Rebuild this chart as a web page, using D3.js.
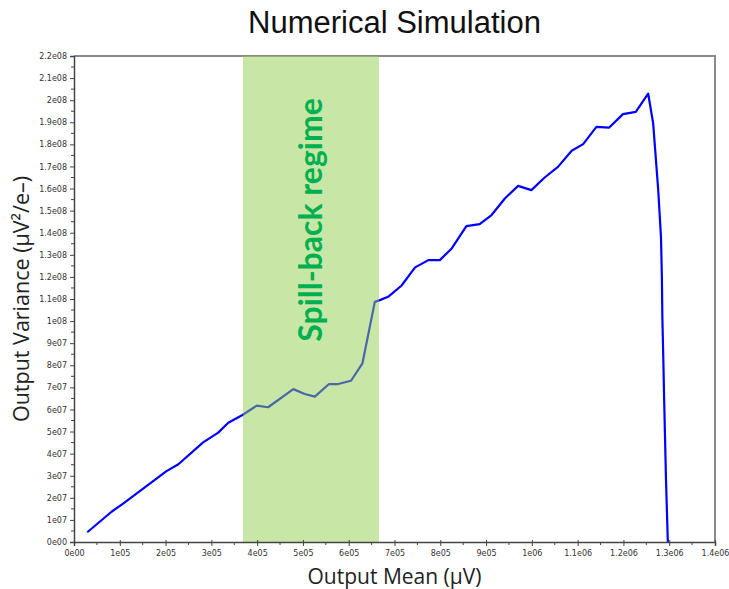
<!DOCTYPE html>
<html>
<head>
<meta charset="utf-8">
<script src="https://cdn.jsdelivr.net/npm/d3@7"></script>
<style>
  html, body { margin: 0; padding: 0; background: #fff; }
  svg { display: block; }
</style>
</head>
<body>
<svg id="chart" width="729" height="589"></svg>
<script>
// Output mean (µV) and output variance (µV²/e−) from the simulation run
const meanValues = [
  29000, 82000, 108000, 202000, 228000, 282000, 315000, 337000, 368000, 399000,
  424000, 479000, 504000, 526000, 557000, 577000, 605000, 630000, 657000, 668000,
  686000, 715000, 745000, 774000, 799000, 825000, 857000, 886000, 912000, 941000,
  970000, 999000, 1028000, 1057000, 1087000, 1112000, 1141000, 1169000, 1199000, 1227000,
  1254000, 1265000, 1276000, 1282000, 1284000, 1285000, 1287000, 1289000, 1291000, 1293000,
  1297000
];
const varianceValues = [
  4.4e6, 1.37e7, 1.75e7, 3.21e7, 3.52e7, 4.51e7, 4.95e7, 5.40e7, 5.75e7, 6.17e7,
  6.10e7, 6.92e7, 6.70e7, 6.58e7, 7.15e7, 7.15e7, 7.30e7, 8.09e7, 1.087e8, 1.095e8,
  1.11e8, 1.16e8, 1.243e8, 1.276e8, 1.276e8, 1.329e8, 1.430e8, 1.439e8, 1.480e8, 1.555e8,
  1.612e8, 1.593e8, 1.650e8, 1.698e8, 1.771e8, 1.801e8, 1.879e8, 1.876e8, 1.937e8, 1.947e8,
  2.030e8, 1.894e8, 1.593e8, 1.381e8, 1.20e8, 1.02e8, 8.4e7, 6.4e7, 4.6e7, 2.8e7,
  0
];

// Spill-back regime extent along the mean axis
const regimeRange = [369000, 666000];
const regimeLabel = "Spill-back regime";

// Axis ticks
const xTickValues = [0, 1e5, 2e5, 3e5, 4e5, 5e5, 6e5, 7e5, 8e5, 9e5, 1e6, 1.1e6, 1.2e6, 1.3e6, 1.4e6];
const xTickLabels = ["0e00", "1e05", "2e05", "3e05", "4e05", "5e05", "6e05", "7e05", "8e05", "9e05", "1e06", "1.1e06", "1.2e06", "1.3e06", "1.4e06"];
const yTickValues = d3.range(0, 23).map(i => i * 1e7);
const yTickLabels = ["0e00", "1e07", "2e07", "3e07", "4e07", "5e07", "6e07", "7e07", "8e07", "9e07",
  "1e08", "1.1e08", "1.2e08", "1.3e08", "1.4e08", "1.5e08", "1.6e08", "1.7e08", "1.8e08", "1.9e08",
  "2e08", "2.1e08", "2.2e08"];

const titleText = "Numerical Simulation";
const xTitle = "Output Mean (\u00b5V)";
const yTitle = "Output Variance (\u00b5V\u00b2/e\u2013)";

const svg = d3.select("#chart");
const plotL = 74, plotR = 715, plotT = 56, plotB = 542;

const x = d3.scaleLinear().domain([0, 1.4e6]).range([plotL, plotR]);
const y = d3.scaleLinear().domain([0, 2.2e8]).range([plotB, plotT]);

// Title
svg.append("text")
  .attr("x", (plotL + plotR) / 2).attr("y", 33)
  .attr("text-anchor", "middle")
  .attr("font-family", "Liberation Sans, Arial, sans-serif")
  .attr("font-size", 31)
  .attr("fill", "#111")
  .text(titleText);

// Frame (top and right edges)
svg.append("path")
  .attr("d", `M${plotL},${plotT}H${plotR}V${plotB}`)
  .attr("fill", "none")
  .attr("stroke", "#8a8a8a")
  .attr("stroke-width", 2);

// Data line
const points = meanValues.map((m, i) => [m, varianceValues[i]]);
svg.append("path")
  .datum(points)
  .attr("d", d3.line().x(d => x(d[0])).y(d => y(d[1])))
  .attr("fill", "none")
  .attr("stroke", "#0000ff")
  .attr("stroke-width", 2.2)
  .attr("stroke-linejoin", "round");

// Translucent highlight band over the regime
svg.append("rect")
  .attr("x", x(regimeRange[0]))
  .attr("y", plotT)
  .attr("width", x(regimeRange[1]) - x(regimeRange[0]))
  .attr("height", plotB - plotT)
  .attr("fill", "#92d050")
  .attr("fill-opacity", 0.5);

// Regime label
const lx = (x(regimeRange[0]) + x(regimeRange[1])) / 2;
const ly = 220;
svg.append("text")
  .attr("transform", `translate(${lx + 11},${ly}) rotate(-90)`)
  .attr("text-anchor", "middle")
  .attr("font-family", "Lato, 'Open Sans', sans-serif")
  .attr("font-weight", "bold")
  .attr("font-size", 32)
  .attr("fill", "#00b050")
  .text(regimeLabel);

// Axes
const tickFont = "DejaVu Sans, sans-serif";
const xAxis = d3.axisBottom(x)
  .tickValues(xTickValues)
  .tickFormat((d, i) => xTickLabels[i])
  .tickSize(4).tickPadding(4);
const gx = svg.append("g").attr("transform", `translate(0,${plotB})`).call(xAxis);
gx.select(".domain").attr("stroke", "#444").attr("stroke-width", 1.5);
gx.selectAll(".tick line").attr("stroke", "#444").attr("y1", -2);
gx.selectAll("text").attr("font-family", tickFont).attr("font-size", 8).attr("fill", "#333");

// x minor ticks
svg.append("g").selectAll("line")
  .data(d3.range(0, 14).map(i => i * 1e5 + 5e4))
  .join("line")
  .attr("x1", d => x(d)).attr("x2", d => x(d))
  .attr("y1", plotB).attr("y2", plotB + 3)
  .attr("stroke", "#444");

const yAxis = d3.axisLeft(y)
  .tickValues(yTickValues)
  .tickFormat((d, i) => yTickLabels[i])
  .tickSize(4).tickPadding(3);
const gy = svg.append("g").attr("transform", `translate(${plotL},0)`).call(yAxis);
gy.select(".domain").attr("stroke", "#444").attr("stroke-width", 1.5);
gy.selectAll(".tick line").attr("stroke", "#444");
gy.selectAll("text").attr("font-family", tickFont).attr("font-size", 8).attr("fill", "#333");

// y minor ticks
svg.append("g").selectAll("line")
  .data(d3.range(0, 22).map(i => i * 1e7 + 5e6))
  .join("line")
  .attr("x1", plotL - 3).attr("x2", plotL)
  .attr("y1", d => y(d)).attr("y2", d => y(d))
  .attr("stroke", "#444");

// Axis titles
svg.append("text")
  .attr("x", (plotL + plotR) / 2).attr("y", 584)
  .attr("text-anchor", "middle")
  .attr("font-family", "'Open Sans', sans-serif")
  .attr("font-size", 21)
  .attr("fill", "#222")
  .text(xTitle);

svg.append("text")
  .attr("transform", `translate(29,${(plotT + plotB) / 2}) rotate(-90)`)
  .attr("text-anchor", "middle")
  .attr("font-family", "'Open Sans', sans-serif")
  .attr("font-size", 21.5)
  .attr("fill", "#222")
  .text(yTitle);
</script>
</body>
</html>
